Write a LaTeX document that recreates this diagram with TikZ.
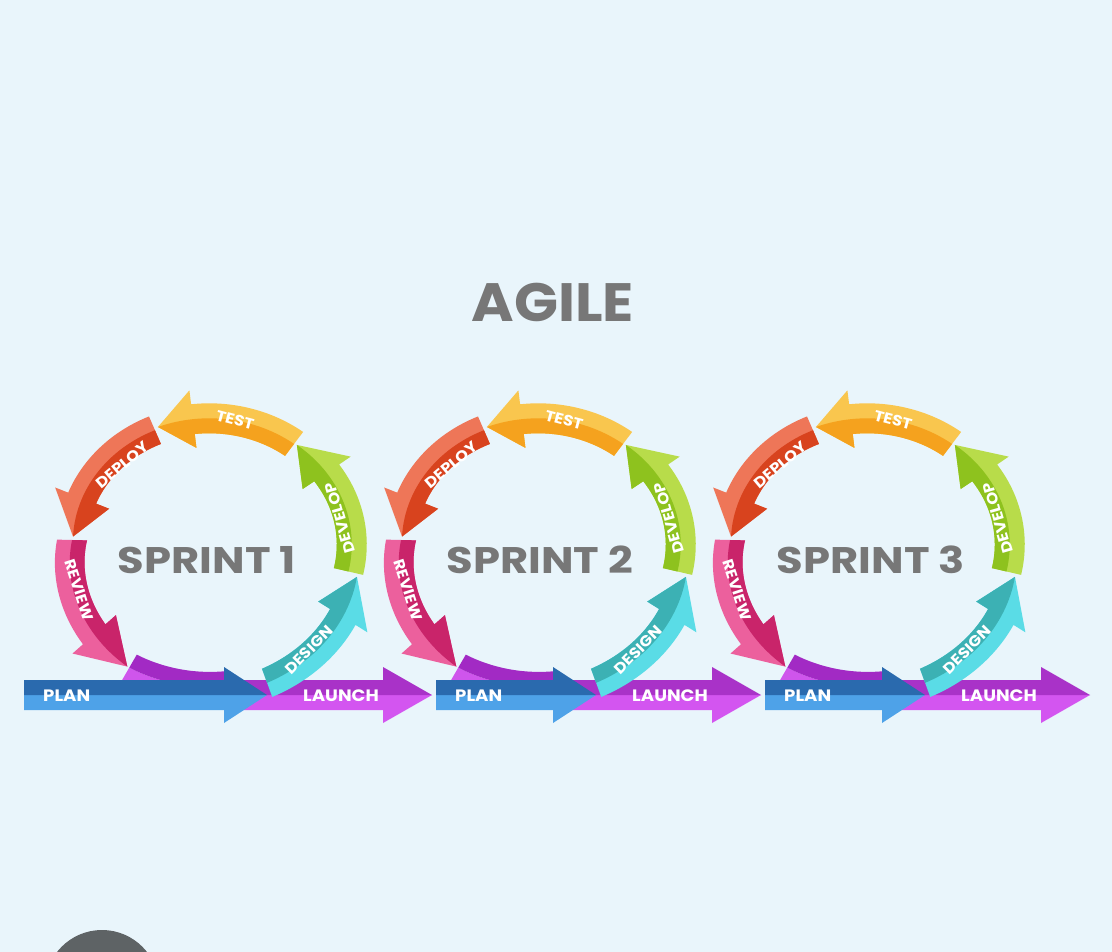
\documentclass[tikz,border=0pt]{standalone}
\usepackage{fontspec}
\setmainfont{Poppins}
\newfontfamily\labelfont[FakeStretch=1.1]{Poppins}
\newfontfamily\sprintfont[FakeStretch=1.17]{Poppins}
\newfontfamily\titlefont[FakeStretch=1.07]{Poppins}
\definecolor{bg}{HTML}{E9F5FB}
\definecolor{testL}{HTML}{F9C64E}\definecolor{testD}{HTML}{F5A21E}
\definecolor{deployL}{HTML}{EE7658}\definecolor{deployD}{HTML}{D8431E}
\definecolor{reviewL}{HTML}{EC609D}\definecolor{reviewD}{HTML}{C9246A}
\definecolor{loopL}{HTML}{CF55EC}\definecolor{loopD}{HTML}{A22AC4}
\definecolor{designL}{HTML}{5ADCE6}\definecolor{designD}{HTML}{3CB1B4}
\definecolor{developL}{HTML}{B8DC4A}\definecolor{developD}{HTML}{8EC21E}
\definecolor{planD}{HTML}{2A6AAE}\definecolor{planL}{HTML}{4EA2E8}
\definecolor{launchD}{HTML}{A932C8}\definecolor{launchL}{HTML}{D355F0}
\definecolor{ink}{HTML}{777777}
\definecolor{knob}{HTML}{5E6365}
% ring geometry: centre and centre-line radii of the sprint loop
\def\cx{210}\def\cy{543}\def\rx{138}\def\ry{123}
% radius scale, growing linearly from \sa at \ta to \sb at \tc
\newcommand\Sc[1]{(\sa+(\sb-\sa)*((#1)-\ta)/(\tc-\ta))}
\newcommand\PX[2]{\cx+(\Sc{#1}*\rx+(#2))*cos(#1)}
\newcommand\PY[2]{\cy-(\Sc{#1}*\ry+(#2))*sin(#1)}
% curved two-tone arrow: tail angle, head base angle, tip angle,
% scale at tail, scale at tip, outer colour, inner colour
\newcommand\ringarrow[7]{%
  \def\ta{#1}\def\tb{#2}\def\tc{#3}\def\sa{#4}\def\sb{#5}%
  \fill[#6] plot[domain=\ta:\tb,samples=30,variable=\t] ({\PX{\t}{15}},{\PY{\t}{15}})
    -- ({\PX{\tb}{29}},{\PY{\tb}{29}}) -- ({\PX{\tc}{0}},{\PY{\tc}{0}})
    -- ({\PX{\tb}{-29}},{\PY{\tb}{-29}})
    -- plot[domain=\tb:\ta,samples=30,variable=\t] ({\PX{\t}{-15}},{\PY{\t}{-15}}) -- cycle;
  \fill[#7] plot[domain=\ta:\tc,samples=30,variable=\t] ({\PX{\t}{0}},{\PY{\t}{0}})
    -- ({\PX{\tb}{-29}},{\PY{\tb}{-29}})
    -- plot[domain=\tb:\ta,samples=30,variable=\t] ({\PX{\t}{-15}},{\PY{\t}{-15}}) -- cycle;
}
% curved two-tone band without a head
\newcommand\ringband[6]{%
  \def\ta{#1}\def\tc{#2}\def\sa{#3}\def\sb{#4}%
  \fill[#5] plot[domain=\ta:\tc,samples=30,variable=\t] ({\PX{\t}{15}},{\PY{\t}{15}})
    -- plot[domain=\tc:\ta,samples=30,variable=\t] ({\PX{\t}{0}},{\PY{\t}{0}}) -- cycle;
  \fill[#6] plot[domain=\ta:\tc,samples=30,variable=\t] ({\PX{\t}{0}},{\PY{\t}{0}})
    -- plot[domain=\tc:\ta,samples=30,variable=\t] ({\PX{\t}{-15}},{\PY{\t}{-15}}) -- cycle;
}
% straight two-tone arrow on the time line: start, head base, tip, light, dark
\newcommand\barrow[5]{%
  \fill[#4] (#1,695) -- (#1,710) -- (#2,710) -- (#2,723) -- (#3,695) -- cycle;
  \fill[#5] (#1,695) -- (#1,680) -- (#2,680) -- (#2,667) -- (#3,695) -- cycle;
}
\begin{document}
\begin{tikzpicture}[x=1pt,y=-1pt,
  lbl/.style={text=white,font=\labelfont\bfseries\fontsize{15}{15}\selectfont,inner sep=0pt},
  barlbl/.style={text=white,font=\labelfont\bfseries\fontsize{16.5}{16.5}\selectfont,inner sep=0pt},
  sprintlbl/.style={text=ink,font=\sprintfont\bfseries\fontsize{37}{37}\selectfont,inner sep=0pt}]
\useasboundingbox (0,0) rectangle (1112,952);
\clip (0,0) rectangle (1112,952);
\fill[bg] (0,0) rectangle (1112,952);
\fill[knob] (102,987) circle[radius=57];

\node[text=ink,font=\titlefont\bfseries\fontsize{54}{54}\selectfont,inner sep=0pt] (title) at (553,302) {AGILE};

\foreach \k/\n in {0/1,1/2,2/3}{
  \begin{scope}[xshift=329*\k pt]
    \pgfmathsetmacro\planstart{\k==0 ? 24 : 107}
    % loop segment running under the plan arrow
    \ringband{240}{276}{1.17}{1.17}{loopL}{loopD}
    % time line
    \barrow{232}{383}{432}{launchL}{launchD}
    \barrow{\planstart}{224}{267}{planL}{planD}
    % the sprint loop
    \ringarrow{178.6}{221.5}{239.2}{1.0}{1.17}{reviewL}{reviewD}
    \ringarrow{113.5}{158.5}{177}{1.0}{0.994}{deployL}{deployD}
    \ringarrow{52.9}{97}{111.8}{1.01}{1.016}{testL}{testD}
    \ringarrow{-13}{34}{51.7}{1.03}{1.016}{developL}{developD}
    \ringarrow{-70}{-32}{-14.5}{1.21}{1.10}{designL}{designD}
    % labels
    \node[lbl,rotate=-15] (test\n) at (235,420) {TEST};
    \node[lbl,rotate=40] (deploy\n) at (122,465) {DEPLOY};
    \node[lbl,rotate=-72] (review\n) at (79,590) {REVIEW};
    \node[lbl,rotate=106] (develop\n) at (340,518) {DEVELOP};
    \node[lbl,rotate=45] (design\n) at (309,650) {DESIGN};
    \node[barlbl,anchor=west] (plan\n) at (\planstart+19,696) {PLAN};
    \node[barlbl] (launch\n) at (341,696) {LAUNCH};
  \end{scope}
}
\node[sprintlbl] (sprint1) at (207,560) {SPRINT 1};
\node[sprintlbl] (sprint2) at (540,560) {SPRINT 2};
\node[sprintlbl] (sprint3) at (871,560) {SPRINT 3};
\end{tikzpicture}
\end{document}
